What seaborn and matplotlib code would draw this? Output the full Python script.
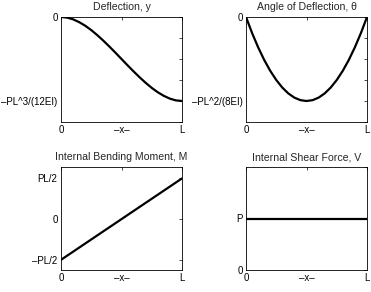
import matplotlib
matplotlib.use("Agg")
import matplotlib.pyplot as plt
import seaborn as sns
import pandas as pd

sns.set_theme(style="white")
plt.rcParams['font.family'] = ['Liberation Sans', 'DejaVu Sans']
plt.rcParams['axes.unicode_minus'] = True

# normalized positions along the beam (0 .. L)
x_pos = [0.0, 0.05, 0.1, 0.15, 0.2, 0.25, 0.3, 0.35, 0.4, 0.45, 0.5,
         0.55, 0.6, 0.65, 0.7, 0.75, 0.8, 0.85, 0.9, 0.95, 1.0]
# deflection in units of PL^3/(12EI)
deflection = [0.0, -0.007, -0.028, -0.061, -0.104, -0.156, -0.216, -0.282, -0.352, -0.425, -0.5,
              -0.575, -0.648, -0.718, -0.784, -0.844, -0.896, -0.939, -0.972, -0.993, -1.0]
# angle in units of PL^2/(8EI)
angle = [0.0, -0.19, -0.36, -0.51, -0.64, -0.75, -0.84, -0.91, -0.96, -0.99, -1.0,
         -0.99, -0.96, -0.91, -0.84, -0.75, -0.64, -0.51, -0.36, -0.19, 0.0]
# moment in units of PL/2
moment_x = [0.0, 1.0]
moment = [-1.0, 1.0]
# shear in units of P
shear_x = [0.0, 1.0]
shear = [1.0, 1.0]

titles = ["Deflection, y", "Angle of Deflection, \u03b8",
          "Internal Bending Moment, M", "Internal Shear Force, V"]
x_ticks = [0, 0.5, 1]
x_labels = ["0", "\u2013x\u2013", "L"]

W, H = 371, 292
fig = plt.figure(figsize=(W / 100, H / 100), dpi=100)
fig.patch.set_facecolor("white")

def px_axes(left, top, right, bottom):
    return fig.add_axes([left / W, 1 - bottom / H, (right - left) / W, (bottom - top) / H])

ax1 = px_axes(61, 17, 182, 122)
ax2 = px_axes(246, 17, 367, 122)
ax3 = px_axes(61, 167, 182, 270)
ax4 = px_axes(246, 167, 367, 270)

fs = 7.6
tfs = 7.0
lw = 1.6

sns.lineplot(data=pd.DataFrame({"x": x_pos, "y": deflection}), x="x", y="y",
             ax=ax1, color="black", linewidth=lw)
sns.lineplot(data=pd.DataFrame({"x": x_pos, "y": angle}), x="x", y="y",
             ax=ax2, color="black", linewidth=lw)
sns.lineplot(data=pd.DataFrame({"x": moment_x, "y": moment}), x="x", y="y",
             ax=ax3, color="black", linewidth=lw)
sns.lineplot(data=pd.DataFrame({"x": shear_x, "y": shear}), x="x", y="y",
             ax=ax4, color="black", linewidth=lw)

for ax, t in zip([ax1, ax2, ax3, ax4], titles):
    ax.set_title(t, fontsize=fs, pad=5)
    ax.set_xlim(0, 1)
    ax.set_xticks(x_ticks)
    ax.set_xticklabels(x_labels, fontsize=tfs)
    ax.set_xlabel("")
    ax.set_ylabel("")
    ax.tick_params(direction="in", length=2.5, width=0.5, top=True, right=True,
                   labelsize=tfs, pad=2.5, colors="black")
    for s in ax.spines.values():
        s.set_color("black")
        s.set_linewidth(0.6)
        s.set_visible(True)

ytk = [-1.25, -1.0, -0.75, -0.5, -0.25, 0.0]
ax1.set_ylim(-1.25, 0)
ax1.set_yticks(ytk)
ax1.set_yticklabels(["", "\u2013PL^3/(12EI)", "", "", "", "0"])
ax2.set_ylim(-1.25, 0)
ax2.set_yticks(ytk)
ax2.set_yticklabels(["", "\u2013PL^2/(8EI)", "", "", "", "0"])
ax3.set_ylim(-1.25, 1.28)
ax3.set_yticks([-1, 0, 1])
ax3.set_yticklabels(["\u2013PL/2", "0", "PL/2"])
ax4.set_ylim(0, 2)
ax4.set_yticks([0, 1, 2])
ax4.set_yticklabels(["0", "P", ""])

fig.savefig("out.png", dpi=100, facecolor="white")
